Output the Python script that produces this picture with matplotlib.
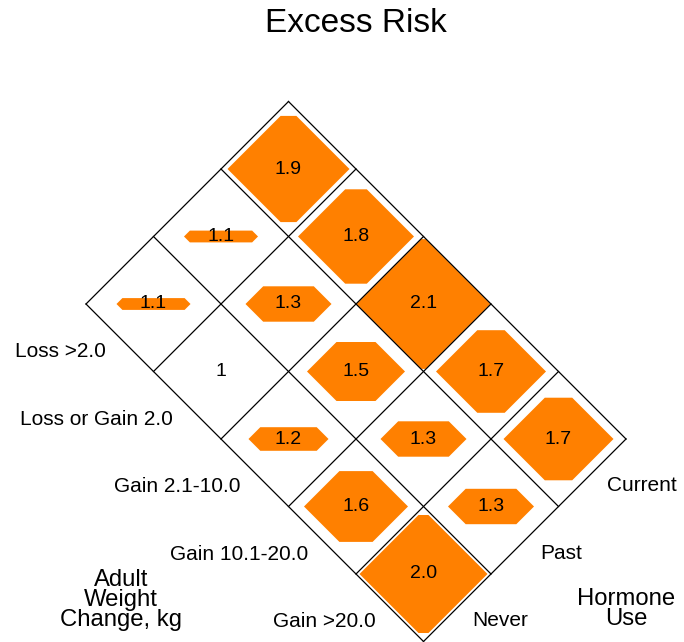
import matplotlib
matplotlib.use("Agg")
import matplotlib.pyplot as plt
from matplotlib.patches import Polygon
from matplotlib.transforms import Affine2D

plt.rcParams['font.family'] = ['Liberation Sans', 'DejaVu Sans']

# ---- data ----
weight_labels = ["Loss >2.0", "Loss or Gain 2.0", "Gain 2.1-10.0", "Gain 10.1-20.0", "Gain >20.0"]
hormone_labels = ["Never", "Past", "Current"]
# rows: weight change; columns: Never, Past, Current
risk = [
    [1.1, 1.1, 1.9],
    [1.0, 1.3, 1.8],
    [1.2, 1.5, 2.1],
    [1.6, 1.3, 1.7],
    [2.0, 1.3, 1.7],
]
risk_text = [
    ["1.1", "1.1", "1.9"],
    ["1", "1.3", "1.8"],
    ["1.2", "1.5", "2.1"],
    ["1.6", "1.3", "1.7"],
    ["2.0", "1.3", "1.7"],
]

ORANGE = "#FF8000"
W, H = 684, 642
fig = plt.figure(figsize=(W / 100, H / 100), dpi=100)
ax = fig.add_axes([0, 0, 1, 1])
ax.set_xlim(0, W)
ax.set_ylim(H, 0)
ax.axis("off")

# layout: logical (col, row) -> pixel, rotated 45 degrees
X0, Y0, S = 86.0, 304.0, 67.5
aff = Affine2D.from_values(S, -S, S, S, X0, Y0)
trans = aff + ax.transData

nrow, ncol = len(weight_labels), len(hormone_labels)

# shapes
for i in range(nrow):
    for j in range(ncol):
        v = risk[i][j]
        cx, cy = aff.transform((j + 0.5, i + 0.5))
        r = (0.504 + 0.444 * (v - 1)) * S
        h = min(0.874 * (v - 1) * S, r)
        if h > 0.5:
            k = r - h
            pts = [(cx - r, cy), (cx - k, cy - h), (cx + k, cy - h),
                   (cx + r, cy), (cx + k, cy + h), (cx - k, cy + h)]
            ax.add_patch(Polygon(pts, closed=True, facecolor=ORANGE,
                                 edgecolor="none", zorder=2))
        ax.text(cx, cy, risk_text[i][j], ha="center", va="center",
                fontsize=14, color="black", zorder=4)

# grid
for r_ in range(nrow + 1):
    ax.plot([0, ncol], [r_, r_], color="black", lw=0.9, transform=trans,
            zorder=3, clip_on=False)
for c_ in range(ncol + 1):
    ax.plot([c_, c_], [0, nrow], color="black", lw=0.9, transform=trans,
            zorder=3, clip_on=False)

# row labels (along lower-left edge)
for i, lab in enumerate(weight_labels):
    ex, ey = aff.transform((0, i + 0.5))
    ax.text(ex - 14, ey + 14, lab, ha="right", va="center", fontsize=15)

# column labels (along lower-right edge)
for j, lab in enumerate(hormone_labels):
    ex, ey = aff.transform((j + 0.5, nrow))
    ax.text(ex + 15, ey + 13, lab, ha="left", va="center", fontsize=15)

# titles
ax.text(356, 23, "Excess Risk", ha="center", va="center", fontsize=24)
ax.text(121, 600, "Adult\nWeight\nChange, kg", ha="center", va="center",
        fontsize=17.2, linespacing=0.88)
ax.text(626, 609, "Hormone\nUse", ha="center", va="center",
        fontsize=17.2, linespacing=0.88)

fig.savefig("out.png", dpi=100)
